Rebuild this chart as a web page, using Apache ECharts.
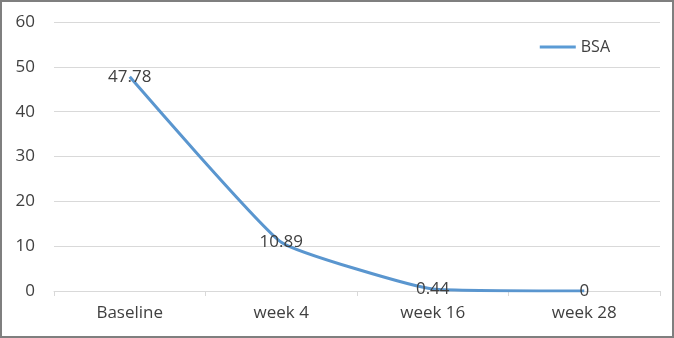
<!DOCTYPE html>
<html>
<head>
<meta charset="utf-8">
<script src="https://cdn.jsdelivr.net/npm/echarts@6/dist/echarts.min.js"></script>
<style>
html,body{margin:0;padding:0;background:#fff;}
#c{width:674px;height:338px;box-sizing:border-box;border:2px solid #7f7f7f;}
</style>
</head>
<body>
<div id="c"></div>
<script>
const categories = ['Baseline', 'week 4', 'week 16', 'week 28'];
const bsaValues = [47.78, 10.89, 0.44, 0];
const yTicks = { min: 0, max: 60, interval: 10 };

const chart = echarts.init(document.getElementById('c'));
chart.setOption({
  animation: false,
  textStyle: { fontFamily: 'Open Sans, sans-serif' },
  legend: {
    right: 57, top: 32,
    itemWidth: 36, itemHeight: 3, itemGap: 3,
    icon: 'rect',
    itemStyle: { color: '#5b9bd5', opacity: 1 },
    textStyle: { color: '#404040', fontSize: 16, fontFamily: 'Open Sans, sans-serif' },
    data: ['BSA']
  },
  grid: { left: 52, right: 12, top: 20, bottom: 45 },
  xAxis: {
    type: 'category',
    data: categories,
    axisLine: { lineStyle: { color: '#d9d9d9' } },
    axisTick: { show: true, lineStyle: { color: '#d9d9d9' } },
    axisLabel: { color: '#404040', fontSize: 17, margin: 14 }
  },
  yAxis: {
    type: 'value',
    min: yTicks.min, max: yTicks.max, interval: yTicks.interval,
    axisLine: { show: false },
    axisTick: { show: false },
    splitLine: { lineStyle: { color: '#d9d9d9' } },
    axisLabel: { color: '#404040', fontSize: 17, margin: 19 }
  },
  series: [{
    name: 'BSA',
    type: 'line',
    data: bsaValues,
    smooth: 0.12,
    symbol: 'circle',
    symbolSize: 0.01,
    showSymbol: true,
    showAllSymbol: true,
    lineStyle: { color: '#5a96cf', width: 3 },
    itemStyle: { color: '#5a96cf' },
    label: {
      show: true,
      position: 'inside',
      color: '#404040',
      fontSize: 17
    }
  }]
});
</script>
</body>
</html>
